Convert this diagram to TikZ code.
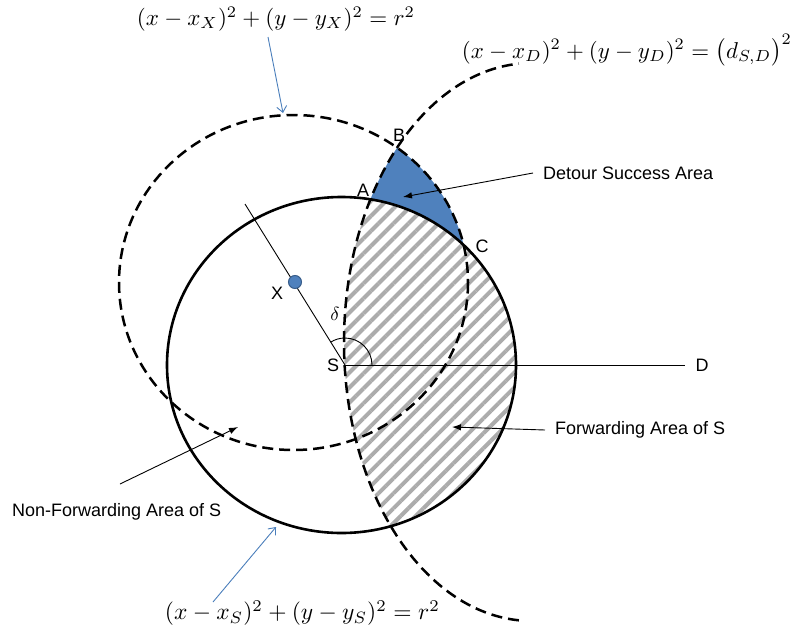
\documentclass[tikz,border=0pt]{standalone}
\usepackage{fontspec}
\setmainfont{Liberation Sans}
\usepackage{graphicx}
\usetikzlibrary{arrows.meta,patterns.meta}
\definecolor{offblue}{HTML}{4F81BD}
\definecolor{dotedge}{HTML}{385D8A}
\definecolor{arrowblue}{HTML}{4A7EBB}
\begin{document}
\begin{tikzpicture}[x=1pt,y=-1pt,
  lbl/.style={font=\fontsize{18}{21}\selectfont, inner sep=0pt},
  solidc/.style={line width=2.6pt},
  dashc/.style={line width=2.5pt, dash pattern=on 11pt off 6pt},
  thinline/.style={line width=0.9pt},
  blackarrow/.style={line width=0.9pt, -{Latex[length=9pt,width=6.5pt]}},
  bluearrow/.style={line width=0.9pt, arrowblue, -{Straight Barb[length=6pt,width=10pt]}}]
\useasboundingbox (0,0) rectangle (795,632);

\coordinate (Sc) at (341.5,365);
\coordinate (Xc) at (293.5,282.5);
\coordinate (Dc) at (532,342);

% detour success area
\begin{scope}
  \clip (Xc) ellipse [x radius=174.5, y radius=167.5];
  \clip (Dc) ellipse [x radius=188, y radius=279];
  \fill[offblue, even odd rule] (0,0) rectangle (795,632) (Sc) ellipse [x radius=174.5, y radius=168];
\end{scope}
% forwarding area
\begin{scope}
  \clip (Sc) ellipse [x radius=174.5, y radius=168];
  \fill[pattern={Lines[angle=45,distance=10.6pt,line width=4pt]}, pattern color=gray!65] (Dc) ellipse [x radius=188, y radius=279];
\end{scope}

% circles
\draw[solidc] (Sc) ellipse [x radius=174.5, y radius=168];
\draw[dashc] (Xc) ellipse [x radius=174.5, y radius=167.5];
\draw[dashc] (Dc) ++(94:188 and 279) arc[start angle=94, end angle=266, x radius=188, y radius=279];

% lines
\coordinate (S) at (345,365);
\coordinate (Dend) at (685,365);
\coordinate (Xtop) at (245,204);
\draw[thinline] (S) -- (Dend);
\draw[thinline] (S) -- (Xtop);
\draw[thinline] (S) ++(27,0) arc[start angle=0, end angle=-121.8, radius=27];

\node[circle, fill=offblue, draw=dotedge, line width=1pt, minimum size=13pt, inner sep=0pt] (Xdot) at (295,282) {};

% labels
\node[lbl] (lA) at (363,190) {A};
\node[lbl] (lB) at (399,135) {B};
\node[lbl] (lC) at (482,246) {C};
\node[lbl] (lX) at (277,293) {X};
\node[lbl] (lS) at (333,365) {S};
\node[lbl] (lD) at (702,365) {D};
\node[inner sep=0pt] (ldelta) at (335,314) {\scalebox{1.9}{$\delta$}};
\node[lbl, anchor=west] (detour) at (543,173) {Detour Success Area};
\node[lbl, anchor=west] (fwd) at (555,430) {Forwarding Area of S};
\node[lbl, anchor=west] (nfwd) at (12,512) {Non-Forwarding Area of S};

% formulas
\node[inner sep=0pt] (fX) at (276,19) {\resizebox{278pt}{!}{$(x-x_X)^2+(y-y_X)^2=r^2$}};
\node[inner sep=0pt] (fD) at (627,50) {\resizebox{330pt}{!}{$(x-x_D)^2+(y-y_D)^2=\bigl(d_{S,D}\bigr)^2$}};
\node[inner sep=0pt] (fS) at (302.5,613) {\resizebox{275pt}{!}{$(x-x_S)^2+(y-y_S)^2=r^2$}};

% arrows
\coordinate (ta1) at (268,37);
\coordinate (ta2) at (283,113);
\draw[bluearrow] (ta1) -- (ta2);
\coordinate (ba1) at (213,602);
\coordinate (ba2) at (276,527);
\draw[bluearrow] (ba1) -- (ba2);
\coordinate (da1) at (533,173);
\coordinate (da2) at (403,197);
\draw[blackarrow] (da1) -- (da2);
\coordinate (fa1) at (545,430);
\coordinate (fa2) at (452,427);
\draw[blackarrow] (fa1) -- (fa2);
\coordinate (na1) at (120,484);
\coordinate (na2) at (238,427);
\draw[blackarrow] (na1) -- (na2);
\end{tikzpicture}
\end{document}
